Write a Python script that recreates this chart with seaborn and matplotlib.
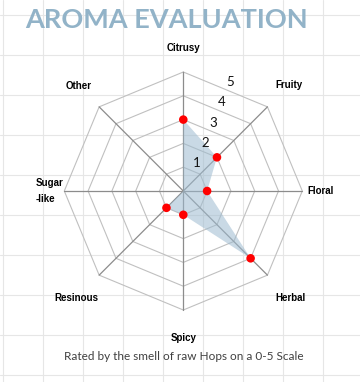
# ================================
# Aroma Evaluation radar chart
# ================================

import numpy as np
import pandas as pd
import matplotlib
matplotlib.use("Agg")
import matplotlib.pyplot as plt
import seaborn as sns

# =========================================
# Data
# =========================================

categories = ["Citrusy", "Fruity", "Floral", "Herbal",
              "Spicy", "Resinous", "Sugar\n-like", "Other"]
scores = [3, 2, 1, 4, 1, 1, 0, 0]
levels = [1, 2, 3, 4, 5]

title = "AROMA EVALUATION"
subtitle = "Rated by the smell of raw Hops on a 0-5 Scale"

# =========================================
# Layout / style
# =========================================

W, H, DPI = 360, 382, 100
cx, cy = 183.3, 191.0          # radar centre in pixels (from top)
px_per_unit = 23.8
half = 170.0
label_r = [6.0, 6.27, 5.75, 6.38, 6.18, 6.34, 5.64, 6.22]

sns.set_theme(style="white")
plt.rcParams["font.family"] = ["Lato", "DejaVu Sans"]

fig = plt.figure(figsize=(W / DPI, H / DPI), dpi=DPI)
fig.patch.set_facecolor("white")

# spreadsheet cell grid behind the chart
bg = fig.add_axes([0, 0, 1, 1], zorder=-1)
bg.set_xlim(0, W)
bg.set_ylim(H, 0)
bg.axis("off")
for gx in np.arange(3.3, W, 40):
    bg.axvline(gx, color="#e6e6e6", lw=0.8)
for gy in np.arange(15, H, 40):
    bg.axhline(gy, color="#e6e6e6", lw=0.8)

# polar axes positioned so the centre sits where the reference has it
ax = fig.add_axes([(cx - half) / W, (H - cy - half) / H, 2 * half / W, 2 * half / H],
                  projection="polar")
ax.set_facecolor("none")
ax.set_theta_zero_location("N")
ax.set_theta_direction(-1)
ax.set_ylim(0, half / px_per_unit)
ax.set_xticks([])
ax.set_yticks([])
ax.grid(False)
ax.spines["polar"].set_visible(False)

n = len(categories)
angles = np.arange(n) * 2 * np.pi / n
closed = np.append(angles, angles[0])

# octagon rings
for lv in levels:
    ax.plot(closed, [lv] * (n + 1), color="#c0c0c0", lw=0.8, zorder=1)

# spokes
for a in angles:
    ax.plot([a, a], [0, max(levels)], color="#8c8c8c", lw=0.9, zorder=2)

# filled area
vals = np.append(scores, scores[0])
ax.fill(closed, vals, color="#9dbbd0", alpha=0.55, lw=0, zorder=3)

# markers (zero scores have no marker in the reference)
df = pd.DataFrame({"angle": angles, "score": scores})
df = df[df["score"] > 0]
sns.scatterplot(data=df, x="angle", y="score", ax=ax, color="#ff0000",
                s=38, edgecolor="none", zorder=5, legend=False)
ax.set_xlabel("")
ax.set_ylabel("")

# radial scale labels
mid = np.pi / n
for lv in levels:
    ax.annotate(str(lv), xy=(mid, lv * np.cos(mid)), xytext=(3.6, 5.3),
                textcoords="offset points", ha="center", va="center",
                fontsize=9.5, color="#111111", zorder=6)

# category labels
for a, name, r in zip(angles, categories, label_r):
    ax.text(a, r, name, ha="center", va="center", fontsize=7,
            fontweight="bold", family=["Liberation Sans", "DejaVu Sans"],
            color="black", multialignment="left", linespacing=1.75)

# title and subtitle
fig.text(166 / W, 1 - 19.7 / H, title, ha="center", va="center",
         fontsize=19.5, fontweight="bold", color="#92b3c8")
fig.text(184 / W, 1 - 357 / H, subtitle, ha="center", va="center",
         fontsize=8.5, color="#404040")

fig.savefig("out.png", dpi=DPI)
